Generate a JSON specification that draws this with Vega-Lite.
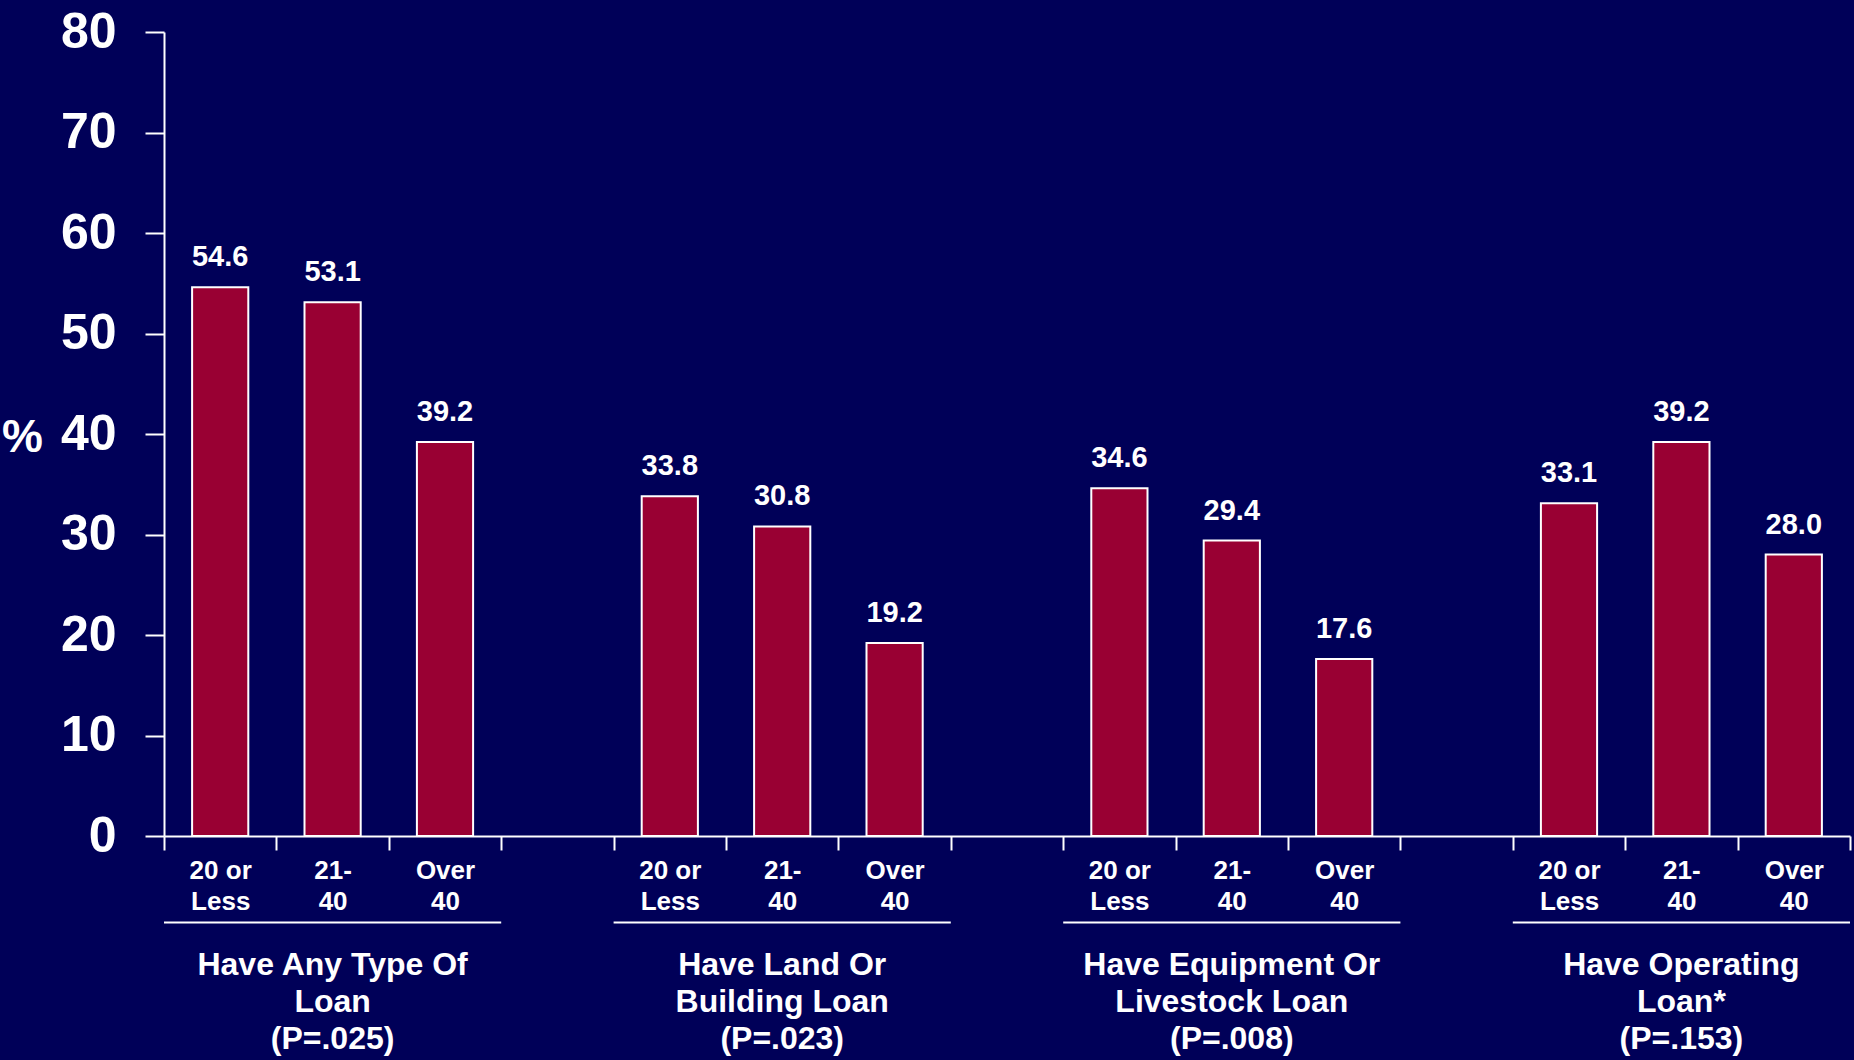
{
  "$schema": "https://vega.github.io/schema/vega-lite/v6.json",
  "autosize": "none",
  "padding": {"left": 164, "top": 32, "right": 4, "bottom": 224},
  "width": 1686,
  "height": 804,
  "background": "#000058",
  "config": {
    "view": {"stroke": null},
    "font": "Liberation Sans",
    "axis": {"grid": false}
  },
  "datasets": {
    "bars": [
      {"group": "Have Any Type Of Loan", "slot": "Any|20 or|Less", "value": 54.6},
      {"group": "Have Any Type Of Loan", "slot": "Any|21-|40", "value": 53.1},
      {"group": "Have Any Type Of Loan", "slot": "Any|Over|40", "value": 39.2},
      {"group": "Have Land Or Building Loan", "slot": "Land|20 or|Less", "value": 33.8},
      {"group": "Have Land Or Building Loan", "slot": "Land|21-|40", "value": 30.8},
      {"group": "Have Land Or Building Loan", "slot": "Land|Over|40", "value": 19.2},
      {"group": "Have Equipment Or Livestock Loan", "slot": "Equip|20 or|Less", "value": 34.6},
      {"group": "Have Equipment Or Livestock Loan", "slot": "Equip|21-|40", "value": 29.4},
      {"group": "Have Equipment Or Livestock Loan", "slot": "Equip|Over|40", "value": 17.6},
      {"group": "Have Operating Loan*", "slot": "Oper|20 or|Less", "value": 33.1},
      {"group": "Have Operating Loan*", "slot": "Oper|21-|40", "value": 39.2},
      {"group": "Have Operating Loan*", "slot": "Oper|Over|40", "value": 28.0}
    ],
    "groups": [
      {"title": "Have Any Type Of\nLoan\n(P=.025)", "first": "Any|20 or|Less", "mid": "Any|21-|40", "last": "Any|Over|40"},
      {"title": "Have Land Or\nBuilding Loan\n(P=.023)", "first": "Land|20 or|Less", "mid": "Land|21-|40", "last": "Land|Over|40"},
      {"title": "Have Equipment Or\nLivestock Loan\n(P=.008)", "first": "Equip|20 or|Less", "mid": "Equip|21-|40", "last": "Equip|Over|40"},
      {"title": "Have Operating\nLoan*\n(P=.153)", "first": "Oper|20 or|Less", "mid": "Oper|21-|40", "last": "Oper|Over|40"}
    ]
  },
  "layer": [
    {
      "data": {"name": "bars"},
      "mark": {"type": "bar", "width": {"band": 0.5}, "fill": "#990033", "stroke": "#ffffff", "strokeWidth": 2},
      "encoding": {
        "x": {
          "field": "slot", "type": "nominal", "sort": null,
          "scale": {
            "domain": ["Any|20 or|Less", "Any|21-|40", "Any|Over|40", "gap1",
                       "Land|20 or|Less", "Land|21-|40", "Land|Over|40", "gap2",
                       "Equip|20 or|Less", "Equip|21-|40", "Equip|Over|40", "gap3",
                       "Oper|20 or|Less", "Oper|21-|40", "Oper|Over|40"],
            "paddingInner": 0, "paddingOuter": 0
          },
          "axis": {
            "title": null,
            "labelAngle": 0,
            "labelExpr": "test(/^gap/, datum.value) ? '' : slice(split(datum.value, '|'), 1)",
            "labelFontSize": 26,
            "labelFontWeight": "bold",
            "labelColor": "#ffffff",
            "labelLineHeight": 31,
            "labelPadding": 7,
            "labelBaseline": "top",
            "tickBand": "extent",
            "tickSize": 14,
            "tickColor": "#ffffff",
            "tickWidth": 2,
            "domainColor": "#ffffff",
            "domainWidth": 2
          }
        },
        "y": {
          "field": "value", "type": "quantitative",
          "scale": {"domain": [0, 80], "nice": false},
          "axis": {
            "title": "%",
            "titleAngle": 0,
            "titleX": -142,
            "titleY": 405,
            "titleAlign": "center",
            "titleBaseline": "middle",
            "titleFontSize": 46,
            "titleFontWeight": "bold",
            "titleColor": "#ffffff",
            "values": [0, 10, 20, 30, 40, 50, 60, 70, 80],
            "labelFontSize": 50,
            "labelFontWeight": "bold",
            "labelColor": "#ffffff",
            "labelPadding": 29,
            "tickSize": 19,
            "tickColor": "#ffffff",
            "tickWidth": 2,
            "domainColor": "#ffffff",
            "domainWidth": 2
          }
        }
      }
    },
    {
      "data": {"name": "bars"},
      "mark": {"type": "text", "dy": -21, "baseline": "alphabetic", "align": "center", "fontSize": 29, "fontWeight": "bold", "color": "#ffffff"},
      "encoding": {
        "x": {"field": "slot", "type": "nominal", "sort": null},
        "y": {"field": "value", "type": "quantitative", "scale": {"domain": [0, 80], "nice": false}},
        "text": {"field": "value", "type": "quantitative", "format": ".1f"}
      }
    },
    {
      "data": {"name": "groups"},
      "mark": {"type": "rule", "color": "#ffffff", "strokeWidth": 2},
      "encoding": {
        "x": {"field": "first", "type": "nominal", "sort": null, "bandPosition": 0},
        "x2": {"field": "last", "bandPosition": 1},
        "y": {"datum": -8.6, "type": "quantitative", "scale": {"domain": [0, 80], "nice": false}}
      }
    },
    {
      "data": {"name": "groups"},
      "mark": {"type": "text", "dy": 138.5, "baseline": "alphabetic", "align": "center", "fontSize": 32, "fontWeight": "bold", "color": "#ffffff", "lineBreak": "\n", "lineHeight": 37},
      "encoding": {
        "x": {"field": "mid", "type": "nominal", "sort": null},
        "y": {"datum": 0, "type": "quantitative", "scale": {"domain": [0, 80], "nice": false}},
        "text": {"field": "title", "type": "nominal"}
      }
    }
  ]
}
